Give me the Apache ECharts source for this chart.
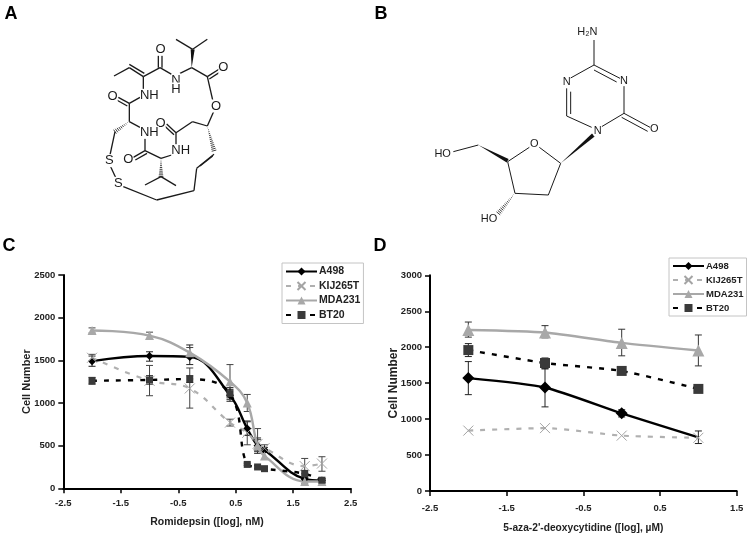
<!DOCTYPE html>
<html><head><meta charset="utf-8">
<style>html,body{margin:0;padding:0;background:#fff}#c{width:750px;height:536px}</style>
<script src="https://cdn.jsdelivr.net/npm/echarts@6/dist/echarts.min.js"></script>
</head><body><div id="c"></div>
<script>
// ---- Panel C data
const seriesNames = ['A498','KIJ265T','MDA231','BT20'];
const xC = [-2,-1,-0.3,0.4,0.7,0.88,1,1.7,2];
const a498C = [1490,1550,1540,1090,700,500,450,110,90];
const kijC  = [1530,1260,1170,770,650,520,470,260,290];
const mdaC  = [1850,1790,1590,1250,1000,500,380,80,80];
const bt20C = [1260,1270,1280,1110,280,250,230,170,95];
const a498CLow  = [1430,1490,1450,1020,620,410,420,90,70];
const a498CHigh = [1550,1600,1680,1180,780,590,480,130,110];
const kijCLow  = [1490,1085,940,730,510,440,430,170,200];
const kijCHigh = [1570,1440,1410,810,790,700,510,350,370];
const mdaCLow  = [1820,1750,1530,1040,900,430,340,60,60];
const mdaCHigh = [1880,1830,1650,1450,1100,570,420,100,100];
const bt20CLow  = [1220,1220,1240,1060,270,235,215,130,75];
const bt20CHigh = [1300,1320,1320,1160,295,265,245,210,115];
// ---- Panel D data
const xD = [-2,-1,0,1];
const a498D = [1570,1440,1080,745];
const kijD  = [840,875,770,740];
const mdaD  = [2240,2205,2060,1955];
const bt20D = [1960,1780,1670,1420];
const a498DLow  = [1340,1170,1030,660];
const a498DHigh = [1800,1700,1130,835];
const mdaDLow  = [2140,2130,1880,1740];
const mdaDHigh = [2350,2300,2250,2170];
const bt20DLow  = [1870,1700,1620,1370];
const bt20DHigh = [2050,1850,1720,1470];
// ---- Tick labels
const xTicksC = [-2.5,-1.5,-0.5,0.5,1.5,2.5];
const xTicksD = [-2.5,-1.5,-0.5,0.5,1.5];

const FONT = '"Liberation Sans", Arial, sans-serif';
const X_PATH = 'path://M0 0L10 10M10 0L0 10';
const styles = {
  A498:{color:'#000',type:'solid',width:2.4,symbol:'diamond',size:[8,12]},
  KIJ265T:{color:'#b0b0b0',type:[5,7],width:2.2,symbol:X_PATH,size:[10,10]},
  MDA231:{color:'#a8a8a8',type:'solid',width:2.4,symbol:'triangle',size:[9,12]},
  BT20:{color:'#000',type:[5,7],width:2.4,symbol:'rect',size:[7,10],mark:'#3a3a3a'}
};
function zip(xs,ys){return xs.map((x,i)=>[x,ys[i]]);}
function lineSeries(name,xs,ys,idx,smooth,hideLast){
  const s=styles[name];
  const isX=name==='KIJ265T';
  const data=zip(xs,ys).map((p,i)=>hideLast&&i===xs.length-1?{value:p,symbol:'none'}:p);
  return {type:'line',name,data,xAxisIndex:idx,yAxisIndex:idx,smooth,showAllSymbol:true,
    symbol:s.symbol,symbolSize:s.size[idx],
    lineStyle:{color:s.color,type:s.type,width:s.width},
    itemStyle:{color:isX?'rgba(0,0,0,0)':(s.mark||s.color),borderColor:isX?'#a4a4a4':(s.mark||s.color),borderWidth:isX?1:0},
    z:3,clip:false,animation:false,emphasis:{disabled:true}};
}
function errSeries(xs,low,high,idx,color){
  return {type:'custom',xAxisIndex:idx,yAxisIndex:idx,z:2,silent:true,animation:false,clip:false,
    data:xs.map((x,i)=>[x,low[i],high[i]]),
    encode:{x:0,y:[1,2]},
    renderItem(params,api){
      const a=api.coord([api.value(0),api.value(1)]),b=api.coord([api.value(0),api.value(2)]);
      const st={stroke:color,lineWidth:1,fill:null};
      const w=3.5;
      return {type:'group',children:[
        {type:'line',shape:{x1:a[0],y1:a[1],x2:b[0],y2:b[1]},style:st},
        {type:'line',shape:{x1:a[0]-w,y1:a[1],x2:a[0]+w,y2:a[1]},style:st},
        {type:'line',shape:{x1:b[0]-w,y1:b[1],x2:b[0]+w,y2:b[1]},style:st}
      ]};
    }};
}
function xAxis(idx,min,max,ticks,name,gap,nameSize,margin){
  return {type:'value',gridIndex:idx,min,max,name,nameLocation:'middle',nameGap:gap,
    nameTextStyle:{fontFamily:FONT,fontWeight:'bold',fontSize:nameSize,color:'#222'},
    splitLine:{show:false},
    axisLine:{onZero:false,lineStyle:{color:'#000',width:2}},
    axisTick:{customValues:ticks,length:5,lineStyle:{color:'#000',width:1.5}},
    axisLabel:{customValues:ticks,formatter:v=>v.toFixed(1),fontFamily:FONT,fontWeight:'bold',fontSize:9.5,color:'#222',margin}};
}
function yAxis(idx,max,interval,gap,nameSize){
  return {type:'value',gridIndex:idx,min:0,max,interval,name:'Cell Number',nameLocation:'middle',nameGap:gap,nameRotate:90,nameMoveOverlap:false,
    nameTextStyle:{fontFamily:FONT,fontWeight:'bold',fontSize:nameSize,color:'#222'},
    splitLine:{show:false},
    axisLine:{show:true,onZero:false,lineStyle:{color:'#000',width:2}},
    axisTick:{show:true,length:5,lineStyle:{color:'#000',width:1.5}},
    axisLabel:{formatter:v=>String(v),fontFamily:FONT,fontWeight:'bold',fontSize:9.5,color:'#222',margin:8}};
}
function legend(left,top,gap,fs,pad){
  return {data:seriesNames,orient:'vertical',left,top,padding:pad,itemGap:gap,itemWidth:31,itemHeight:10,
    selectedMode:false,backgroundColor:'#fff',borderColor:'#c4c4c4',borderWidth:1,borderRadius:0,
    textStyle:{fontFamily:FONT,fontWeight:'bold',fontSize:fs,color:'#222',padding:[0,0,0,-3]},z:5};
}

// ---- Chemical structures: bonds in crop units, mapped to the page by place()
const bondsA=[[258,58,308,88],[352,58,308,88],[305,143,352,170],[352,170,368,240],[372,272,352,318],[352,318,307,305],[307,305,258,338],
 [258,338,258,375],[245,405,213,415],[213,415,165,392],[165,392,165,355],[150,322,118,305],[118,305,118,250],[118,250,150,232],
 [160,210,160,170],[160,170,118,143],[118,143,72,168],[160,170,210,143],[210,143,245,163],[270,160,305,143],[75,335,60,405],[62,440,78,475],
 [100,500,200,540],[200,540,312,512],[312,512,320,445],[320,445,372,403],[213,470,165,495],[213,470,258,497],
 [352,170,388,147],[358,177,392,155],[258,338,230,312],[252,344,224,318],[165,392,130,412],[171,400,136,420],[118,250,85,232],[112,258,80,240],
 [205,143,205,102],[216,143,216,102],[163,160,118,133],[330,438,368,408]];
const wedgeA=[[305,143,308,88]];
const hatchA=[[118,305,75,335],[352,318,372,392],[213,415,213,470]];
const textA=[[212,88,'O'],[400,143,'O'],[378,258,'O'],[212,310,'O'],[115,418,'O'],[68,228,'O'],[178,226,'NH'],[258,180,'N'],[258,207,'H'],[178,337,'NH'],[272,392,'NH'],[58,422,'S'],[85,490,'S']];
const bondsB=[[522,90,522,165],[522,165,600,205],[522,180,590,216],[612,228,612,310],[612,310,545,350],[612,310,690,352],[605,322,683,364],
 [515,352,440,318],[440,318,440,235],[452,312,452,245],[450,205,522,165],[358,412,422,460],[422,460,385,555],[385,555,285,550],[285,550,263,455],[263,455,328,412],[175,405,100,425]];
const wedgeB=[[422,460,520,375],[175,405,263,452]];
const hatchB=[[285,550,235,610]];
const textB=[[502,67,'H₂N'],[440,216,'N'],[612,212,'N'],[533,362,'N'],[703,357,'O'],[343,402,'O'],[68,432,'HO'],[207,628,'HO']];
const panelLetters=[[11,14,'A'],[381,14,'B'],[9,246,'C'],[380,246,'D']];

function place(bonds,wedges,hatches,texts,ox,oy,lw,fs){
  const P=(x,y)=>[ox+x/3,oy+y/3], out=[];
  bonds.forEach(b=>{const a=P(b[0],b[1]),c=P(b[2],b[3]);
    out.push({type:'line',silent:true,shape:{x1:a[0],y1:a[1],x2:c[0],y2:c[1]},style:{stroke:'#1a1a1a',lineWidth:lw}});});
  wedges.forEach(b=>{const a=P(b[0],b[1]),c=P(b[2],b[3]),dx=c[0]-a[0],dy=c[1]-a[1],L=Math.hypot(dx,dy),nx=-dy/L*2,ny=dx/L*2;
    out.push({type:'polygon',silent:true,shape:{points:[a,[c[0]+nx,c[1]+ny],[c[0]-nx,c[1]-ny]]},style:{fill:'#111'}});});
  hatches.forEach(b=>{const a=P(b[0],b[1]),c=P(b[2],b[3]),dx=c[0]-a[0],dy=c[1]-a[1],L=Math.hypot(dx,dy),n=Math.round(L/1.9);
    for(let i=1;i<=n;i++){const t=i/n,mx=a[0]+dx*t,my=a[1]+dy*t,nx=-dy/L*2.4*t,ny=dx/L*2.4*t;
      out.push({type:'line',silent:true,shape:{x1:mx+nx,y1:my+ny,x2:mx-nx,y2:my-ny},style:{stroke:'#111',lineWidth:.8}});}});
  texts.forEach(t=>{const a=P(t[0],t[1]);
    out.push({type:'text',silent:true,x:a[0],y:a[1],style:{text:t[2],fontFamily:FONT,fontSize:fs,fill:'#1a1a1a',align:'center',verticalAlign:'middle',backgroundColor:'#fff'},z:2});});
  return out;
}
const graphics=[
  ...place(bondsA,wedgeA,hatchA,textA,90,20,1.3,13),
  ...place(bondsB,wedgeB,hatchB,textB,420,10,1,11),
  ...panelLetters.map(t=>({type:'text',silent:true,x:t[0],y:t[1],style:{text:t[2],fontFamily:FONT,fontWeight:'bold',fontSize:18,fill:'#000',align:'center',verticalAlign:'middle'}}))
];

const chart=echarts.init(document.getElementById('c'),null,{renderer:'canvas'});
chart.setOption({
  animation:false,backgroundColor:'#fff',
  grid:[{left:63.3,top:275,width:287.4,height:213.3},{left:430,top:275.3,width:306.7,height:215.7}],
  xAxis:[xAxis(0,-2.5,2.5,xTicksC,'Romidepsin ([log], nM)',28,10.5,10),xAxis(1,-2.5,1.5,xTicksD,"5-aza-2'-deoxycytidine ([log], µM)",32,10.2,12)],
  yAxis:[yAxis(0,2500,500,31,11),yAxis(1,3000,500,30,12)],
  legend:[legend(282,263,3.5,10.5,[3,3,3,3]),legend(669,258,4,9.5,[3,3,3,3])],
  graphic:{elements:graphics},
  series:[
    errSeries(xC,a498CLow,a498CHigh,0,'#222'),errSeries(xC,kijCLow,kijCHigh,0,'#444'),
    errSeries(xC,mdaCLow,mdaCHigh,0,'#444'),errSeries(xC,bt20CLow,bt20CHigh,0,'#222'),
    lineSeries('A498',xC,a498C,0,0.4),lineSeries('KIJ265T',xC,kijC,0,0.4),lineSeries('MDA231',xC,mdaC,0,0.4),lineSeries('BT20',xC,bt20C,0,0.4),
    errSeries(xD,a498DLow,a498DHigh,1,'#222'),errSeries(xD,mdaDLow,mdaDHigh,1,'#333'),errSeries(xD,bt20DLow,bt20DHigh,1,'#222'),
    lineSeries('A498',xD,a498D,1,0.2,true),lineSeries('KIJ265T',xD,kijD,1,0.2),lineSeries('MDA231',xD,mdaD,1,0.2),lineSeries('BT20',xD,bt20D,1,0.2)
  ]
});
</script></body></html>
